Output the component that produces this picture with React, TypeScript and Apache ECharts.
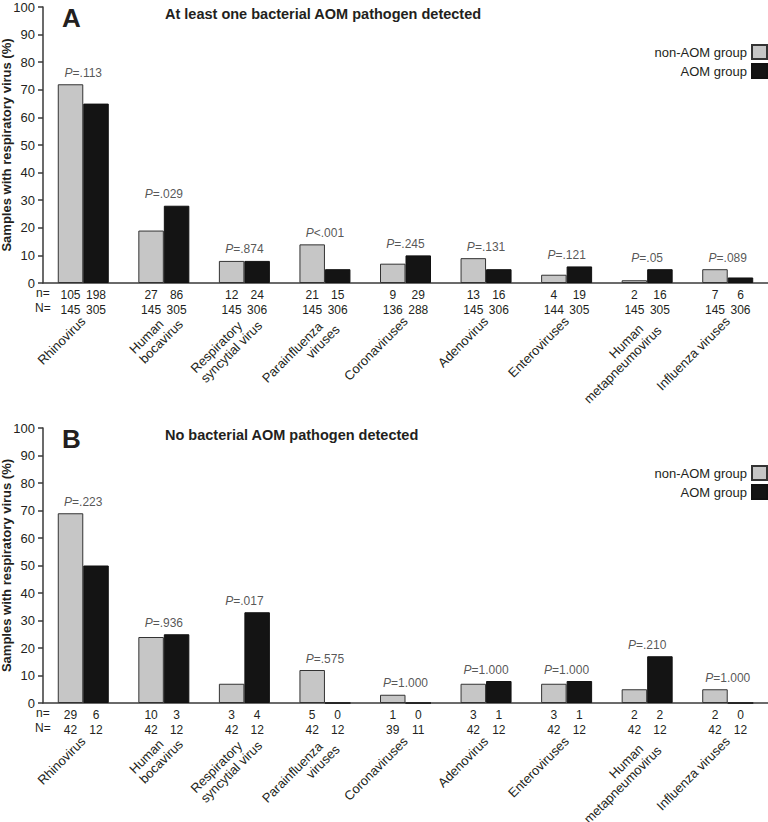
import React, { useEffect, useRef } from 'react';
import * as echarts from 'echarts';

// ---- data ----
const categories = [
  'Rhinovirus',
  'Human\nbocavirus',
  'Respiratory\nsyncytial virus',
  'Parainfluenza\nviruses',
  'Coronaviruses',
  'Adenovirus',
  'Enteroviruses',
  'Human\nmetapneumovirus',
  'Influenza viruses',
];
const seriesNames = ['non-AOM group', 'AOM group'];

// Panel A: at least one bacterial AOM pathogen detected
const nonAomA = [72, 19, 8, 14, 7, 9, 3, 1, 5];
const aomA = [65, 28, 8, 5, 10, 5, 6, 5, 2];
const pA = ['=.113', '=.029', '=.874', '<.001', '=.245', '=.131', '=.121', '=.05', '=.089'];
const nNonAomA = [105, 27, 12, 21, 9, 13, 4, 2, 7];
const nAomA = [198, 86, 24, 15, 29, 16, 19, 16, 6];
const totNonAomA = [145, 145, 145, 145, 136, 145, 144, 145, 145];
const totAomA = [305, 305, 306, 306, 288, 306, 305, 305, 306];

// Panel B: no bacterial AOM pathogen detected
const nonAomB = [69, 24, 7, 12, 3, 7, 7, 5, 5];
const aomB = [50, 25, 33, 0, 0, 8, 8, 17, 0];
const pB = ['=.223', '=.936', '=.017', '=.575', '=1.000', '=1.000', '=1.000', '=.210', '=1.000'];
const nNonAomB = [29, 10, 3, 5, 1, 3, 3, 2, 2];
const nAomB = [6, 3, 4, 0, 0, 1, 1, 2, 0];
const totNonAomB = [42, 42, 42, 42, 39, 42, 42, 42, 42];
const totAomB = [12, 12, 12, 12, 11, 12, 12, 12, 12];

const yMin = 0;
const yMax = 100;
const yInterval = 10;

// ---- styles / layout ----
const FONT = '"Liberation Sans", Arial, Helvetica, sans-serif';
const TEXT = '#231f20';
const GRAY = '#c6c6c6';
const BLACK = '#141414';
const AXIS = '#3a3a3a';
// per-category: rich style key for each line, and label box padding (layout tweaks)
const lineStyles: string[][] = [
  ['al'], ['al', 'al'], ['al', 'al'], ['arp', 'ar'], ['al'], ['al'], ['al'], ['acp', 'ac'], ['al'],
];
const labelPadding: (number[] | null)[] = [
  null, [14, -10, 0, 0], [14, -8, 0, 0], [15, -3, 0, 0], null, null, null, [16, -2, 0, 0], null,
];

const panels = [
  {
    letter: 'A',
    title: 'At least one bacterial AOM pathogen detected',
    top: 7,
    height: 276,
    legendTop: 44,
    nonAom: nonAomA, aom: aomA, p: pA,
    nNon: nNonAomA, nAom: nAomA, totNon: totNonAomA, totAom: totAomA,
  },
  {
    letter: 'B',
    title: 'No bacterial AOM pathogen detected',
    top: 428,
    height: 275,
    legendTop: 465,
    nonAom: nonAomB, aom: aomB, p: pB,
    nNon: nNonAomB, nAom: nAomB, totNon: totNonAomB, totAom: totAomB,
  },
];

function buildOption() {
  const grid: any[] = [];
  const xAxis: any[] = [];
  const yAxis: any[] = [];
  const series: any[] = [];
  const legend: any[] = [];
  const graphic: any[] = [];

  const catData = categories.map((c, k) =>
    labelPadding[k] ? { value: c, textStyle: { padding: labelPadding[k] } } : c
  );
  const richBase = { fontSize: 13, lineHeight: 14, fontFamily: FONT, color: TEXT };

  panels.forEach((pn, i) => {
    grid.push({
      left: 43, width: 725, top: pn.top, height: pn.height,
      containLabel: false, outerBoundsMode: 'none',
    });
    xAxis.push({
      type: 'category',
      gridIndex: i,
      data: catData,
      axisLine: { show: true, lineStyle: { color: AXIS, width: 1.5 } },
      axisTick: { show: false },
      splitLine: { show: false },
      axisLabel: {
        interval: 0,
        rotate: 45,
        margin: 36,
        fontSize: 13,
        fontFamily: FONT,
        color: TEXT,
        hideOverlap: false,
        formatter: (v: string, idx: number) =>
          v.split('\n').map((s, li) => `{${lineStyles[idx][li]}|${s}}`).join('\n'),
        rich: {
          al: { ...richBase, align: 'left' },
          ar: { ...richBase, align: 'right' },
          arp: { ...richBase, align: 'right', padding: [0, 10, 0, 0] },
          ac: { ...richBase, align: 'center' },
          acp: { ...richBase, align: 'center', padding: [0, 0, 0, 38] },
        },
      },
    });
    yAxis.push({
      type: 'value',
      gridIndex: i,
      min: yMin,
      max: yMax,
      interval: yInterval,
      name: 'Samples with respiratory virus (%)',
      nameLocation: 'middle',
      nameGap: 30,
      nameMoveOverlap: false,
      nameTextStyle: { fontSize: 13, fontWeight: 'bold', fontFamily: FONT, color: TEXT },
      axisLine: { show: true, lineStyle: { color: AXIS, width: 1.5 } },
      axisTick: { show: true, inside: false, length: 5, lineStyle: { color: AXIS, width: 1.5 } },
      splitLine: { show: false },
      axisLabel: { margin: 8, fontSize: 13, fontFamily: FONT, color: TEXT },
    });

    const countLabel = (ns: number[], tots: number[]) => ({
      show: true,
      position: 'bottom',
      distance: 4,
      fontSize: 12,
      lineHeight: 15,
      fontFamily: FONT,
      color: TEXT,
      formatter: (pr: any) => `${ns[pr.dataIndex]}\n${tots[pr.dataIndex]}`,
    });

    series.push({
      name: seriesNames[0],
      type: 'bar',
      xAxisIndex: i,
      yAxisIndex: i,
      data: pn.nonAom,
      barWidth: 25.5,
      barGap: '0%',
      itemStyle: { color: GRAY, borderColor: '#333', borderWidth: 1 },
      label: countLabel(pn.nNon, pn.totNon),
    });
    series.push({
      name: seriesNames[1],
      type: 'bar',
      xAxisIndex: i,
      yAxisIndex: i,
      data: pn.aom,
      barWidth: 25.5,
      barGap: '0%',
      itemStyle: { color: BLACK, borderColor: '#111', borderWidth: 1 },
      label: countLabel(pn.nAom, pn.totAom),
    });
    const pvals = pn.p;
    series.push({
      name: 'P values ' + pn.letter,
      type: 'scatter',
      xAxisIndex: i,
      yAxisIndex: i,
      data: pn.nonAom.map((v, k) => Math.max(v, pn.aom[k])),
      symbolSize: 1,
      itemStyle: { color: 'transparent' },
      silent: true,
      label: {
        show: true,
        position: 'top',
        distance: 5,
        formatter: (pr: any) => `{i|P}{r|${pvals[pr.dataIndex]}}`,
        rich: {
          i: { fontStyle: 'italic', fontSize: 12, fontFamily: FONT, color: '#2a2a2a' },
          r: { fontSize: 12, fontFamily: FONT, color: '#2a2a2a' },
        },
      },
    });

    legend.push({
      data: seriesNames,
      orient: 'vertical',
      right: 0,
      top: pn.legendTop,
      padding: 0,
      align: 'right',
      icon: 'rect',
      itemWidth: 15,
      itemHeight: 14,
      itemGap: 3,
      selectedMode: false,
      textStyle: { fontSize: 13, fontFamily: FONT, color: TEXT },
    });

    const axisY = pn.top + pn.height;
    graphic.push(
      {
        type: 'text', left: 62, top: pn.top - 2,
        style: { text: pn.letter, font: `bold 26px ${FONT}`, fill: TEXT },
      },
      {
        type: 'text', left: 165, top: pn.top - 1,
        style: { text: pn.title, font: `bold 14.5px ${FONT}`, fill: TEXT },
      },
      {
        type: 'text', left: 36, top: axisY + 4,
        style: { text: 'n=', font: `12px ${FONT}`, fill: TEXT },
      },
      {
        type: 'text', left: 35, top: axisY + 19,
        style: { text: 'N=', font: `12px ${FONT}`, fill: TEXT },
      }
    );
  });

  return {
    animation: false,
    backgroundColor: '#ffffff',
    textStyle: { fontFamily: FONT },
    grid,
    xAxis,
    yAxis,
    series,
    legend,
    graphic,
  };
}

export default function App() {
  const ref = useRef<HTMLDivElement>(null);
  useEffect(() => {
    if (!ref.current) return;
    const chart = echarts.init(ref.current, undefined, { renderer: 'svg' });
    chart.setOption(buildOption() as any);
    return () => chart.dispose();
  }, []);
  return (
    <div
      ref={ref}
      style={{ position: 'absolute', left: 0, top: 0, width: 768, height: 822, background: '#fff' }}
    />
  );
}
